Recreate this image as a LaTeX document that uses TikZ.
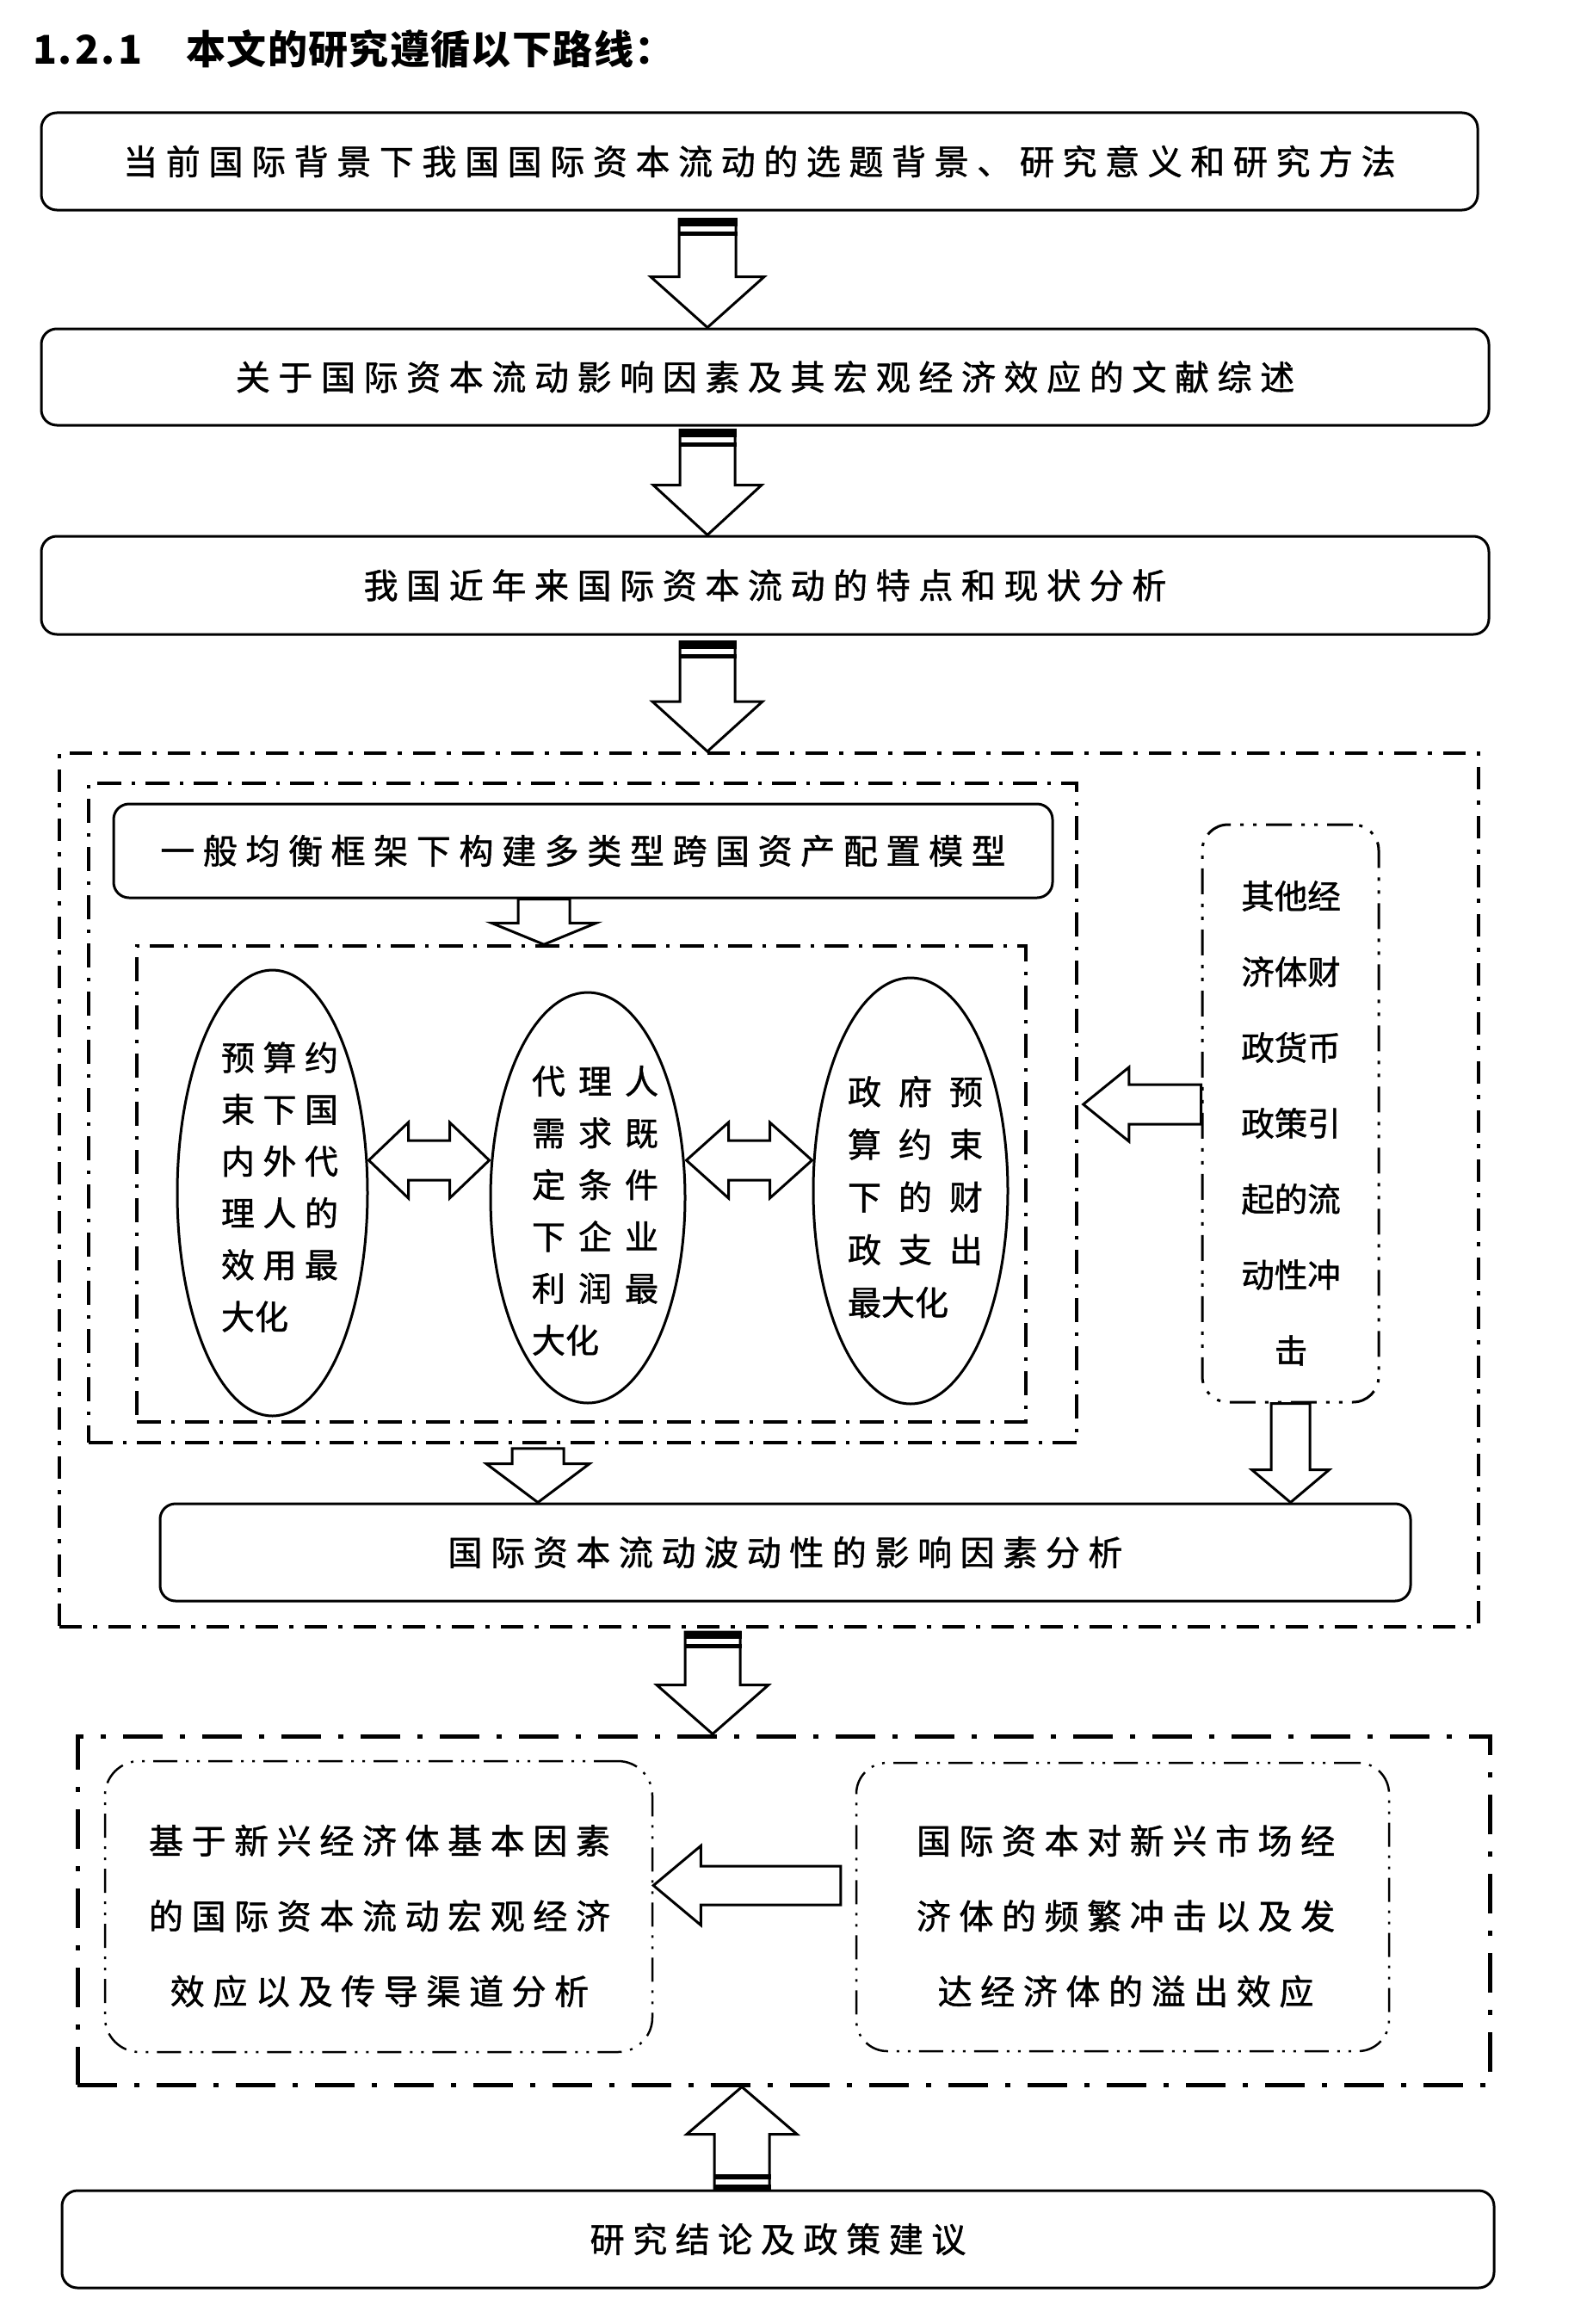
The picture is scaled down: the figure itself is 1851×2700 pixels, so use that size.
\documentclass[tikz,border=0pt]{standalone}
\usepackage{fontspec}
\usetikzlibrary{shapes.geometric,calc}
\newfontfamily\cjk[FakeBold=1.2]{Noto Sans CJK SC}
\newfontfamily\cjkw[LetterSpace=24,FakeBold=1.2]{Noto Sans CJK SC}
\newfontfamily\cjkt[LetterSpace=3]{Noto Sans CJK SC}

\newcommand\blockdown[7]{% col, from, to, gap, shaft hw, head hw, head len
  \coordinate (s) at ($(#1 |- #2)+(0,#4)$);
  \coordinate (t) at (#1 |- #3);
  \draw[blk] ($(s)+(-#5,0)$) -- ($(s)+(#5,0)$) -- ($(t)+(#5,-#7)$) -- ($(t)+(#6,-#7)$) -- (t)
    -- ($(t)+(-#6,-#7)$) -- ($(t)+(-#5,-#7)$) -- cycle;}
\newcommand\blockup[7]{% col, from (bottom), to (tip), gap, shaft hw, head hw, head len
  \coordinate (s) at ($(#1 |- #2)+(0,-#4)$);
  \coordinate (t) at (#1 |- #3);
  \draw[blk] ($(s)+(-#5,0)$) -- ($(s)+(#5,0)$) -- ($(t)+(#5,#7)$) -- ($(t)+(#6,#7)$) -- (t)
    -- ($(t)+(-#6,#7)$) -- ($(t)+(-#5,#7)$) -- cycle;}
\newcommand\blockleft[8]{% row, from (right), to (tip), start gap, tip gap, shaft hh, head hh, head len
  \coordinate (s) at ($(#1 -| #2)+(-#4,0)$);
  \coordinate (t) at ($(#1 -| #3)+(#5,0)$);
  \draw[blk] ($(s)+(0,-#6)$) -- ($(t)+(#8,-#6)$) -- ($(t)+(#8,-#7)$) -- (t)
    -- ($(t)+(#8,#7)$) -- ($(t)+(#8,#6)$) -- ($(s)+(0,#6)$) -- cycle;}
\newcommand\blockdouble[6]{% row, left, right, shaft hh, head hh, head len
  \coordinate (s) at (#1 -| #2);
  \coordinate (t) at (#1 -| #3);
  \draw[blk] (s) -- ($(s)+(#6,-#5)$) -- ($(s)+(#6,-#4)$) -- ($(t)+(-#6,-#4)$) -- ($(t)+(-#6,-#5)$)
    -- (t) -- ($(t)+(-#6,#5)$) -- ($(t)+(-#6,#4)$) -- ($(s)+(#6,#4)$) -- ($(s)+(#6,#5)$) -- cycle;}
\newcommand\blockbar[4]{% col, anchor, gap, hw
  \fill ($(#1 |- #2)+(-#4-1.5,#3-1.5)$) rectangle ($(#1 |- #2)+(#4+1.5,#3+8)$);
  \fill ($(#1 |- #2)+(-#4-1.5,#3+14)$) rectangle ($(#1 |- #2)+(#4+1.5,#3+19)$);}

\begin{document}
\begin{tikzpicture}[x=1pt,y=-1pt,
  sbox/.style={draw, line width=3pt, rounded corners=18pt, inner sep=0pt,
    font=\cjkw\fontsize{40}{46}\selectfont},
  dbox/.style={draw, inner sep=0pt},
  odash/.style={line width=4pt, dash pattern=on 26pt off 13pt on 5pt off 13pt},
  idash/.style={line width=3.5pt, dash pattern=on 28pt off 12pt on 4pt off 12pt},
  ddot/.style={line width=3pt, dash pattern=on 30pt off 11pt on 4pt off 11pt on 4pt off 11pt},
  odash2/.style={line width=5pt, dash pattern=on 46pt off 20pt on 6pt off 20pt},
  ddot2/.style={line width=2.5pt, dash pattern=on 28pt off 10pt on 3pt off 10pt on 3pt off 10pt},
  blk/.style={draw, line width=3pt, fill=white, line join=miter},
  ell/.style={ellipse, draw, line width=3pt, inner sep=0pt},
  etxt/.style={align=left, inner sep=0pt, font=\cjk\fontsize{39}{60.2}\selectfont},
  vtxt/.style={align=center, inner sep=0pt, font=\cjk\fontsize{38.5}{88}\selectfont},
  wtxt/.style={align=center, inner sep=0pt, font=\cjkw\fontsize{40}{87.5}\selectfont}]

\fill[white] (0,0) rectangle (1851,2700);
\useasboundingbox (0,0) rectangle (1851,2700);

% title
\node[anchor=west, inner sep=0pt, font=\cjkt\bfseries\fontsize{46}{50}\selectfont] (title) at (38,57)
  {1.\hspace{4pt}2.\hspace{4pt}1\hspace{51pt}本文的研究遵循以下路线：};

% top boxes
\node[sbox, minimum width=1669, minimum height=113] (b1) at (882.5,187.5)
  {当前国际背景下我国国际资本流动的选题背景、研究意义和研究方法};
\node[sbox, minimum width=1682, minimum height=112] (b2) at (889,438)
  {关于国际资本流动影响因素及其宏观经济效应的文献综述};
\node[sbox, minimum width=1682, minimum height=114] (b3) at (889,680)
  {我国近年来国际资本流动的特点和现状分析};

% first group
\node[dbox, odash, minimum width=1649, minimum height=1015] (o1) at (893.5,1382.5) {};
\node[dbox, idash, minimum width=1148, minimum height=766] (i1) at (677,1293) {};
\node[dbox, idash, minimum width=1033, minimum height=553] (i2) at (675.5,1375.5) {};
\node[sbox, minimum width=1091, minimum height=109] (g) at (677.5,988.5)
  {一般均衡框架下构建多类型跨国资产配置模型};
\node[dbox, ddot, rounded corners=30pt, minimum width=205, minimum height=671] (r) at (1499.5,1293.5) {};
\node[vtxt] (rt) at (1500,1305) {其他经\\济体财\\政货币\\政策引\\起的流\\动性冲\\击};

\node[ell, minimum width=221, minimum height=518] (e1) at (316.5,1386) {};
\node[ell, minimum width=226, minimum height=477] (e2) at (683,1391.5) {};
\node[ell, minimum width=226, minimum height=495] (e3) at (1058,1383.5) {};
\node[etxt] (t1) at (325,1379) {\makebox[136pt][s]{预\hfill 算\hfill 约}\\\makebox[136pt][s]{束\hfill 下\hfill 国}\\\makebox[136pt][s]{内\hfill 外\hfill 代}\\\makebox[136pt][s]{理\hfill 人\hfill 的}\\\makebox[136pt][s]{效\hfill 用\hfill 最}\\\makebox[136pt][l]{大化}};
\node[etxt] (t2) at (691.5,1406.5) {\makebox[147pt][s]{代\hfill 理\hfill 人}\\\makebox[147pt][s]{需\hfill 求\hfill 既}\\\makebox[147pt][s]{定\hfill 条\hfill 件}\\\makebox[147pt][s]{下\hfill 企\hfill 业}\\\makebox[147pt][s]{利\hfill 润\hfill 最}\\\makebox[147pt][l]{大化}};
\node[etxt, font=\cjk\fontsize{39}{61.2}\selectfont] (t3) at (1063.5,1390.5) {\makebox[157pt][s]{政\hfill 府\hfill 预}\\\makebox[157pt][s]{算\hfill 约\hfill 束}\\\makebox[157pt][s]{下\hfill 的\hfill 财}\\\makebox[157pt][s]{政\hfill 支\hfill 出}\\\makebox[157pt][l]{最大化}};

\node[sbox, minimum width=1453, minimum height=113] (f) at (912.5,1803.5)
  {国际资本流动波动性的影响因素分析};

% second group
\node[dbox, odash2, minimum width=1641, minimum height=405] (o2) at (910.5,2219.5) {};
\node[dbox, ddot2, rounded corners=40pt, minimum width=636, minimum height=338] (l) at (440,2215) {};
\node[wtxt] (lt) at (441,2226) {基于新兴经济体基本因素\\的国际资本流动宏观经济\\效应以及传导渠道分析};
\node[dbox, ddot2, rounded corners=36pt, minimum width=619, minimum height=335] (r2) at (1304.5,2215.5) {};
\node[wtxt] (r2t) at (1308,2226) {国际资本对新兴市场经\\济体的频繁冲击以及发\\达经济体的溢出效应};

\node[sbox, minimum width=1664, minimum height=113] (b4) at (904,2601.5)
  {研究结论及政策建议};

% arrow columns / rows
\coordinate (ca) at (822,0);
\coordinate (cb) at (828,0);
\coordinate (cc) at (862,0);
\coordinate (cd) at (632,0);
\coordinate (ce) at (625,0);
\coordinate (ra) at (0,1283);
\coordinate (rb) at (0,2190.5);
\coordinate (rc) at (0,1348);

% block arrows
\blockdown{ca}{b1.south}{b2.north}{9}{33}{66}{59}
\blockbar{ca}{b1.south}{9}{33}
\blockdown{ca}{b2.south}{b3.north}{4}{32}{63}{58}
\blockbar{ca}{b2.south}{4}{32}
\blockdown{ca}{b3.south}{o1.north}{7}{32}{64}{58}
\blockbar{ca}{b3.south}{7}{32}
\blockdown{cd}{g.south}{i2.north}{0}{30}{61}{25}
\blockdown{ce}{i1.south}{f.north}{5}{30}{60}{45}
\blockdown{r.south}{r.south}{f.north}{0}{22.5}{45}{38}
\blockdown{cb}{o1.south}{o2.north}{4}{32}{65}{57}
\blockbar{cb}{o1.south}{4}{32}
\blockup{cc}{b4.north}{o2.south}{0}{32}{64}{55}
\fill ($(cc |- b4.north)+(-33.5,-18)$) rectangle ($(cc |- b4.north)+(33.5,-12)$);
\fill ($(cc |- b4.north)+(-33.5,-6)$) rectangle ($(cc |- b4.north)+(33.5,0)$);

\blockleft{ra}{r.west}{i1.east}{0}{6}{23}{43}{53}
\blockleft{rb}{r2.west}{l.east}{17}{0}{22.5}{46}{55}
\blockdouble{rc}{e1.east}{e2.west}{23}{44}{46}
\blockdouble{rc}{e2.east}{e3.west}{23}{44}{49}

\end{tikzpicture}
\end{document}
